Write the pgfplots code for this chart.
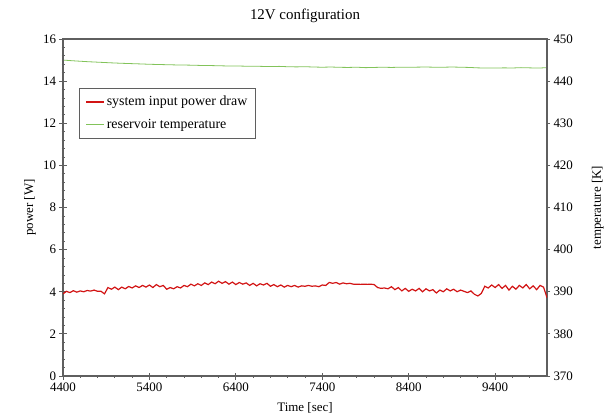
\documentclass[border=0pt]{standalone}
\usepackage{pgfplots}
\pgfplotsset{compat=1.18}
\usepackage{pgfplotstable}
\usepackage{fontspec}
\setmainfont{Liberation Serif}
\definecolor{powerred}{RGB}{210,20,20}
\definecolor{tgreen}{RGB}{130,195,90}
\definecolor{axgray}{RGB}{95,95,95}

\pgfplotstableread{
t p
4400 3.90
4440 4.02
4480 3.96
4520 4.05
4560 3.98
4600 4.04
4640 4.00
4680 4.06
4720 4.03
4760 4.08
4800 4.02
4840 4.02
4880 3.90
4920 4.20
4960 4.12
5000 4.22
5040 4.10
5080 4.22
5120 4.14
5160 4.25
5200 4.18
5240 4.28
5280 4.20
5320 4.30
5360 4.22
5400 4.32
5440 4.20
5480 4.34
5520 4.24
5560 4.30
5600 4.12
5640 4.20
5680 4.14
5720 4.24
5760 4.18
5800 4.30
5840 4.24
5880 4.36
5920 4.28
5960 4.38
6000 4.30
6040 4.42
6080 4.34
6120 4.46
6160 4.38
6200 4.50
6240 4.40
6280 4.48
6320 4.36
6360 4.46
6400 4.34
6440 4.44
6480 4.36
6520 4.42
6560 4.30
6600 4.40
6640 4.28
6680 4.38
6720 4.32
6760 4.40
6800 4.26
6840 4.34
6880 4.24
6920 4.32
6960 4.22
7000 4.30
7040 4.24
7080 4.30
7120 4.22
7160 4.28
7200 4.26
7240 4.30
7280 4.26
7320 4.28
7360 4.24
7400 4.32
7440 4.30
7480 4.44
7520 4.40
7560 4.44
7600 4.36
7640 4.42
7680 4.38
7720 4.40
7760 4.36
7800 4.36
7840 4.35
7880 4.36
7920 4.35
7960 4.36
8000 4.34
8040 4.20
8080 4.16
8120 4.18
8160 4.14
8200 4.24
8240 4.10
8280 4.20
8320 4.04
8360 4.16
8400 4.02
8440 4.12
8480 4.04
8520 4.16
8560 4.00
8600 4.14
8640 4.04
8680 4.10
8720 3.94
8760 4.08
8800 4.00
8840 4.14
8880 4.04
8920 4.12
8960 4.00
9000 4.08
9040 4.02
9080 3.96
9120 4.04
9160 3.88
9200 3.80
9240 3.92
9280 4.26
9320 4.18
9360 4.32
9400 4.20
9440 4.34
9480 4.16
9520 4.30
9560 4.08
9600 4.26
9640 4.12
9680 4.30
9720 4.18
9760 4.34
9800 4.14
9840 4.28
9880 4.10
9920 4.30
9960 4.22
10000 3.72
}\powertable

\pgfplotstableread{
t T
4400 445.0
4500 444.85
4600 444.72
4700 444.6
4800 444.5
4900 444.4
5000 444.3
5100 444.22
5200 444.15
5300 444.08
5400 444.0
5500 443.95
5600 443.9
5700 443.85
5800 443.82
5900 443.78
6000 443.72
6100 443.7
6200 443.65
6300 443.6
6400 443.6
6500 443.55
6600 443.55
6700 443.5
6800 443.45
6900 443.5
7000 443.42
7100 443.38
7200 443.42
7300 443.35
7400 443.3
7500 443.35
7600 443.28
7700 443.25
7800 443.3
7900 443.2
8000 443.25
8100 443.3
8200 443.25
8300 443.3
8400 443.28
8500 443.32
8600 443.35
8700 443.3
8800 443.3
8900 443.35
9000 443.3
9100 443.25
9200 443.15
9300 443.1
9400 443.1
9500 443.15
9600 443.12
9700 443.2
9800 443.15
9900 443.1
10000 443.2
}\temptable

\begin{document}
\begin{tikzpicture}
\path[use as bounding box] (-63bp,-42bp) rectangle (545bp,376bp);
\pgfplotsset{
  common/.style={
    scale only axis, width=484bp, height=337bp,
    at={(0,0)}, anchor=south west,
    xmin=4400, xmax=10000,
    scaled x ticks=false, scaled y ticks=false,
    axis line style={axgray, line width=1.1bp},
    tick style={axgray, line width=0.8bp},
    tick label style={font=\fontsize{13}{15}\selectfont},
    /pgf/number format/assume math mode=true,
    /pgf/number format/1000 sep={},
  }
}
\begin{axis}[common,
  axis x line=none, axis y line*=right,
  ymin=370, ymax=450, ytick distance=10,
  tick align=outside, major tick length=3bp,
  ylabel={temperature [K]},
  every axis y label/.style={at={(axis description cs:1.105,0.5)}, rotate=90, anchor=center, font=\fontsize{13}{15}\selectfont},
]
\addplot[tgreen, line width=0.8bp] table[x=t, y=T] {\temptable};
\end{axis}
\begin{axis}[common,
  ymin=0, ymax=16, ytick distance=2,
  xtick={4400,5400,6400,7400,8400,9400},
  minor xtick={4600,4800,5000,5200,5600,5800,6000,6200,6600,6800,7000,7200,7600,7800,8000,8200,8600,8800,9000,9200,9600,9800},
  minor y tick num=4,
  xtick pos=bottom, ytick pos=left,
  tick align=center, major tick length=7bp, minor tick length=3bp,
  title={12V configuration},
  every axis title/.style={at={(axis description cs:0.5,1.068)}, anchor=center, font=\fontsize{15}{17}\selectfont},
  xlabel={Time [sec]},
  every axis x label/.style={at={(axis description cs:0.5,-0.095)}, anchor=center, font=\fontsize{13}{15}\selectfont},
  ylabel={power [W]},
  every axis y label/.style={at={(axis description cs:-0.068,0.5)}, rotate=90, anchor=center, font=\fontsize{13}{15}\selectfont},
  legend style={at={(axis description cs:0.033,0.855)}, anchor=north west,
    draw=axgray, line width=0.8bp, font=\fontsize{14}{16}\selectfont,
    inner xsep=6bp, inner ysep=6bp, row sep=8bp,
    nodes={inner xsep=2bp}},
  legend cell align=left,
]
\addplot[color=powerred, line width=1.2bp, forget plot] table[x=t, y=p] {\powertable};
\addlegendimage{legend image code/.code={\draw[draw=powerred, line width=1.4bp] (4bp,0bp) -- (22bp,0bp);}}
\addlegendentry{system input power draw}
\addlegendimage{legend image code/.code={\draw[draw=tgreen, line width=0.9bp] (4bp,0bp) -- (22bp,0bp);}}
\addlegendentry{reservoir temperature}
\end{axis}
\end{tikzpicture}
\end{document}
